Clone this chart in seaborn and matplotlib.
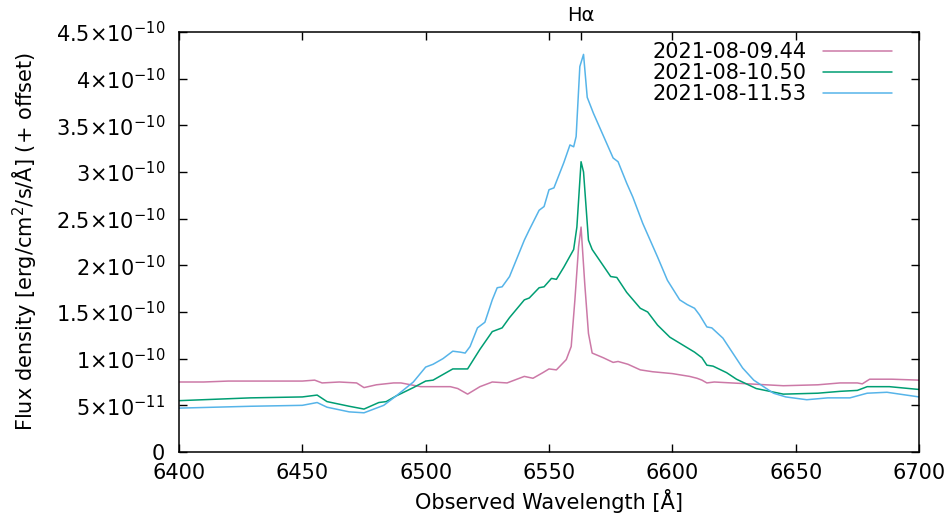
# -*- coding: utf-8 -*-
"""
H-alpha line profile for three epochs (flux density vs observed wavelength),
gnuplot-like styling redone with seaborn/matplotlib.
"""

#%% ###################################################
import numpy as np
import pandas as pd
import matplotlib
matplotlib.use('Agg')
import matplotlib.pyplot as plt
from matplotlib.ticker import FuncFormatter
import seaborn as sns

#%% Data (flux in units of 1e-10 erg/cm2/s/A) #################################
wl_0944 = [6400, 6410, 6420, 6430, 6440, 6450, 6455, 6458, 6465, 6472, 6475, 6480, 6487,
           6490, 6498, 6503, 6510, 6513, 6517, 6522, 6527, 6533, 6540, 6543.5, 6547.5,
           6550, 6553, 6557, 6559, 6560.5, 6562, 6563, 6564.5, 6566, 6567.5, 6572, 6576,
           6578, 6582, 6587, 6592, 6600, 6607, 6610, 6612, 6614, 6617, 6631, 6645, 6659,
           6668, 6675, 6677, 6680, 6689, 6700]
flux_0944 = [0.75, 0.75, 0.76, 0.76, 0.76, 0.76, 0.77, 0.74, 0.75, 0.74, 0.69, 0.72, 0.74,
             0.74, 0.70, 0.70, 0.70, 0.68, 0.62, 0.70, 0.75, 0.74, 0.81, 0.79, 0.85,
             0.89, 0.88, 0.99, 1.13, 1.63, 2.2, 2.41, 1.8, 1.27, 1.06, 1.01, 0.96,
             0.97, 0.94, 0.88, 0.86, 0.84, 0.81, 0.79, 0.77, 0.74, 0.75, 0.73, 0.71, 0.72,
             0.74, 0.74, 0.73, 0.78, 0.78, 0.77]

wl_1050 = [6400, 6429, 6450, 6456, 6460, 6469, 6475, 6481, 6484, 6488, 6495, 6500, 6503,
           6507, 6511, 6514, 6517, 6522, 6527, 6529, 6531, 6534, 6540, 6542, 6546, 6548,
           6551, 6553, 6556, 6560, 6561.3, 6563, 6564, 6566, 6567.5, 6575, 6577.5, 6581.5,
           6587, 6590, 6594, 6599, 6604, 6609, 6612, 6614, 6616.5, 6622, 6626, 6634, 6645,
           6659, 6668, 6675, 6679, 6688, 6700]
flux_1050 = [0.55, 0.58, 0.59, 0.61, 0.54, 0.49, 0.46, 0.53, 0.54, 0.60, 0.69, 0.76, 0.77,
             0.83, 0.89, 0.89, 0.89, 1.10, 1.29, 1.31, 1.33, 1.44, 1.63, 1.65, 1.76, 1.77,
             1.86, 1.85, 1.98, 2.17, 2.41, 3.11, 3.00, 2.27, 2.17, 1.88, 1.87, 1.71,
             1.54, 1.50, 1.36, 1.23, 1.15, 1.07, 1.01, 0.93, 0.92, 0.85, 0.78, 0.68, 0.62,
             0.63, 0.65, 0.66, 0.70, 0.70, 0.67]

wl_1153 = [6400, 6429, 6450, 6456, 6460, 6469, 6475, 6483, 6488, 6495, 6500, 6503, 6507,
           6511, 6514, 6516, 6518, 6521, 6524, 6527, 6529, 6531, 6534, 6540, 6542, 6546,
           6548, 6550, 6552, 6556, 6558.5, 6560, 6561, 6562.5, 6564, 6565.5, 6568, 6576,
           6578, 6581.5, 6584, 6588, 6591, 6594, 6598, 6603, 6606, 6609, 6611, 6614, 6616,
           6620.5, 6624.5, 6628.5, 6633, 6641, 6646, 6654.5, 6663, 6672, 6679, 6687, 6700]
flux_1153 = [0.47, 0.49, 0.50, 0.53, 0.48, 0.43, 0.42, 0.50, 0.60, 0.75, 0.91, 0.94, 1.00,
             1.08, 1.07, 1.06, 1.13, 1.33, 1.39, 1.63, 1.76, 1.77, 1.88, 2.27, 2.38, 2.59,
             2.63, 2.81, 2.83, 3.10, 3.29, 3.27, 3.38, 4.13, 4.26, 3.80, 3.63, 3.15,
             3.11, 2.88, 2.73, 2.45, 2.27, 2.09, 1.84, 1.63, 1.58, 1.54, 1.47, 1.34, 1.33,
             1.22, 1.06, 0.90, 0.77, 0.63, 0.59, 0.56, 0.58, 0.58, 0.63, 0.64, 0.59]

epochs = ['2021-08-09.44', '2021-08-10.50', '2021-08-11.53']
clrs   = ['#cc79a7', '#009e73', '#56b4e9']
halpha = 6562.8

df = pd.concat([pd.DataFrame({'wl': w, 'flux': np.array(f) * 1e-10, 'epoch': e})
                for w, f, e in zip([wl_0944, wl_1050, wl_1153],
                                   [flux_0944, flux_1050, flux_1153], epochs)])

#%% Plot ######################################################################
sns.set_style('ticks')
plt.rcParams['font.family'] = ['DejaVu Sans']
plt.rcParams['mathtext.fontset'] = 'dejavusans'
for key in ['text.color', 'axes.labelcolor', 'xtick.color', 'ytick.color']:
    plt.rcParams[key] = 'black'
fs = 15

fig = plt.figure(figsize=(9.53, 5.17), dpi=100)
ax = fig.add_axes([179/953, 65/517, 740/953, 420/517])

sns.lineplot(data=df, x='wl', y='flux', hue='epoch', palette=clrs, sort=False,
             estimator=None, lw=1.1, ax=ax)

ax.set_xlim(6400, 6700)
ax.set_ylim(0, 4.5e-10)
ax.set_xticks(np.arange(6400, 6701, 50))
ax.set_yticks(np.arange(0, 4.51e-10, 0.5e-10))

def sci_fmt(v, pos):
    if abs(v) < 1e-20:
        return '0'
    exp = int(np.floor(np.log10(abs(v)) + 1e-9))
    mant = v / 10**exp
    mant_s = ('%.1f' % mant).rstrip('0').rstrip('.')
    return '%s×10$^{%d}$' % (mant_s, exp)

ax.yaxis.set_major_formatter(FuncFormatter(sci_fmt))
ax.tick_params(direction='in', length=6, width=1, top=True, right=True,
               labelsize=fs, colors='black', pad=10)
ax.tick_params(axis='x', pad=8)
for sp in ax.spines.values():
    sp.set_linewidth(1.1)
    sp.set_color('black')

# extra tick + label at H-alpha on the top axis
sec = ax.secondary_xaxis('top')
sec.set_xticks([halpha])
sec.set_xticklabels(['Hα'])
sec.tick_params(direction='in', length=6, width=1, labelsize=fs - 1, pad=5, colors='black')
sec.spines['top'].set_visible(False)

ax.set_xlabel('Observed Wavelength [Å]', fontsize=fs, labelpad=4, color='black')
ax.set_ylabel('Flux density [erg/cm$^2$/s/Å] (+ offset)', fontsize=fs, labelpad=12,
              color='black')

leg = ax.legend(frameon=False, loc='upper right', bbox_to_anchor=(0.977, 1.0),
                markerfirst=False, handlelength=3.3, labelspacing=0.05, borderpad=0,
                handletextpad=0.8, fontsize=fs)
for t in leg.get_texts():
    t.set_color('black')

fig.savefig('out.png', dpi=100)
